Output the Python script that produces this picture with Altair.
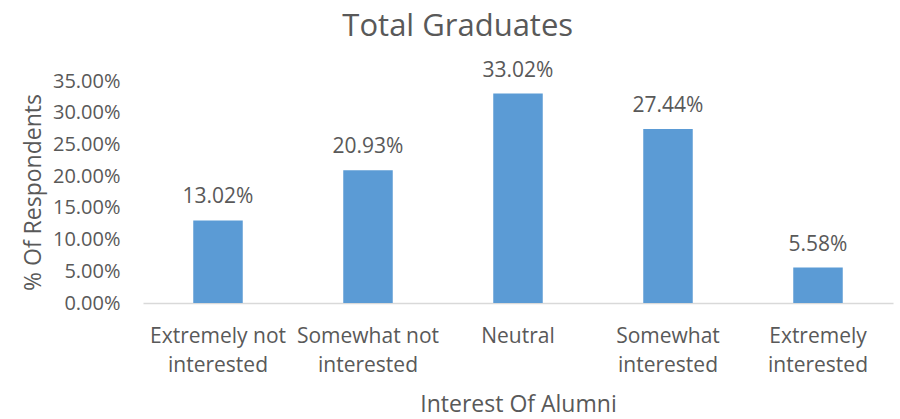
import altair as alt
import pandas as pd

categories = ["Extremely not interested", "Somewhat not interested", "Neutral",
              "Somewhat interested", "Extremely interested"]
label_lines = [["Extremely not", "interested"], ["Somewhat not", "interested"], ["Neutral"],
               ["Somewhat", "interested"], ["Extremely", "interested"]]
values = [13.02, 20.93, 33.02, 27.44, 5.58]
y_ticks = [0, 5, 10, 15, 20, 25, 30, 35]

df = pd.DataFrame({"cat": categories, "val": [v / 100 for v in values]})

FONT = "Open Sans"
GREY = "#595959"

label_map = "{" + ",".join(
    "'%s': [%s]" % (c, ",".join("'%s'" % l for l in ls)) for c, ls in zip(categories, label_lines)
) + "}"

x = alt.X("cat:N", sort=categories, title="Interest Of Alumni",
          scale=alt.Scale(paddingInner=0.67, paddingOuter=0.335),
          axis=alt.Axis(labelAngle=0, labelExpr=label_map + "[datum.label]",
                        labelFont=FONT, labelFontSize=21, labelColor=GREY,
                        labelLineHeight=29, labelPadding=22, labelBaseline="top",
                        titleFont=FONT, titleFontSize=23, titleColor=GREY, titleFontWeight="normal",
                        titlePadding=18, ticks=False, domainColor="#D9D9D9", domainWidth=1.5))

y = alt.Y("val:Q", title="% Of Respondents",
          scale=alt.Scale(domain=[0, 0.35], nice=False),
          axis=alt.Axis(values=[t / 100 for t in y_ticks], format=".2%", grid=False,
                        domain=False, ticks=False, labelPadding=23,
                        labelFont=FONT, labelFontSize=20, labelColor=GREY,
                        titleFont=FONT, titleFontSize=23, titleColor=GREY, titleFontWeight="normal",
                        titlePadding=7))

base = alt.Chart(df).encode(x=x, y=y)
bars = base.mark_bar(color="#5B9BD5")
labels = base.mark_text(dy=-17, baseline="alphabetic", font=FONT, fontSize=21, color=GREY).encode(
    text=alt.Text("val:Q", format=".2%"))

chart = (bars + labels).properties(
    width=750, height=222,
    background="white",
    title=alt.Title("Total Graduates", font=FONT, fontSize=31, color=GREY, fontWeight="normal",
                    anchor="middle", frame="bounds", offset=17),
    autosize=alt.AutoSizeParams(type="none"),
    padding={"left": 143, "top": 81, "right": 7, "bottom": 116},
).configure_view(strokeWidth=0)

chart.save("out.html", embed_options={"renderer": "svg", "actions": False})
